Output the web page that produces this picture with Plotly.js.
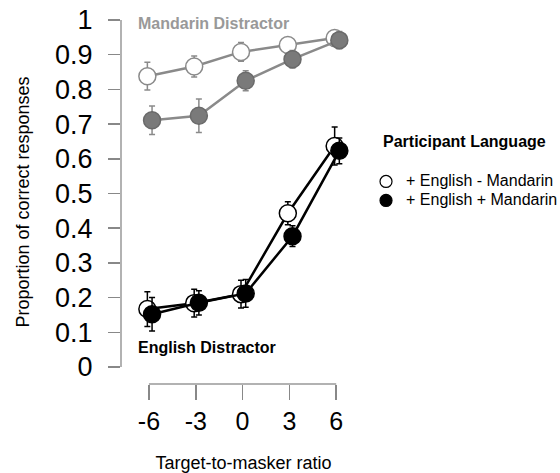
<!DOCTYPE html>
<html>
<head>
<meta charset="utf-8">
<script src="https://cdn.plot.ly/plotly-3.0.1.min.js"></script>
<style>html,body{margin:0;padding:0;background:#fff;}#chart{width:560px;height:473px;}</style>
</head>
<body>
<div id="chart"></div>
<script>
// Target-to-masker ratio (dB)
const tmr = [-6, -3, 0, 3, 6];
const tickLabelsX = ['-6', '-3', '0', '3', '6'];
const yTicks = [0, 0.1, 0.2, 0.3, 0.4, 0.5, 0.6, 0.7, 0.8, 0.9, 1];
const yTickLabels = ['0', '0.1', '0.2', '0.3', '0.4', '0.5', '0.6', '0.7', '0.8', '0.9', '1'];

// Mandarin distractor
const mandOpen = [0.838, 0.866, 0.908, 0.928, 0.948];
const mandOpenErr = [0.040, 0.030, 0.027, 0.020, 0.020];
const mandFilled = [0.711, 0.724, 0.825, 0.887, 0.942];
const mandFilledErr = [0.041, 0.048, 0.029, 0.025, 0.025];

// English distractor
const engOpen = [0.167, 0.184, 0.210, 0.443, 0.637];
const engOpenErr = [0.050, 0.040, 0.040, 0.033, 0.055];
const engFilled = [0.152, 0.185, 0.212, 0.377, 0.623];
const engFilledErr = [0.048, 0.035, 0.040, 0.030, 0.037];

const legendTitle = 'Participant Language';
const legendLabels = ['+ English - Mandarin', '+ English + Mandarin'];

const dodgeOpen = -0.1, dodgeFilled = 0.2;
const xOpen = tmr.map(v => v + dodgeOpen);
const xFilled = tmr.map(v => v + dodgeFilled);

const gray = '#8a8a8a';
const FONT = 'Liberation Sans, Arial, Helvetica, sans-serif';

function series(x, y, err, lineColor, fill, outline) {
  return {
    x: x, y: y, type: 'scatter', mode: 'lines+markers', showlegend: false,
    line: {color: lineColor, width: 2.5},
    marker: {size: 17, color: fill, line: {color: outline, width: 1.5}},
    error_y: {type: 'data', array: err, visible: true, color: lineColor, thickness: 1.5, width: 3},
    cliponaxis: false, hoverinfo: 'x+y'
  };
}

function legendName(s) {
  return '<span style="font-size:16px">' + s + '</span>';
}

const data = [
  series(xOpen, mandOpen, mandOpenErr, gray, '#ffffff', gray),
  series(xFilled, mandFilled, mandFilledErr, gray, '#7a7a7a', '#6a6a6a'),
  series(xOpen, engOpen, engOpenErr, '#000000', '#ffffff', '#000000'),
  series(xFilled, engFilled, engFilledErr, '#000000', '#000000', '#000000'),
  {x: [null], y: [null], type: 'scatter', mode: 'markers', name: legendName(legendLabels[0]),
   marker: {size: 12, color: '#ffffff', line: {color: '#000', width: 1.2}}},
  {x: [null], y: [null], type: 'scatter', mode: 'markers', name: legendName(legendLabels[1]),
   marker: {size: 12, color: '#000000', line: {color: '#000', width: 1.2}}}
];

const layout = {
  width: 560, height: 473,
  margin: {l: 121, r: 193, t: 20, b: 89},
  paper_bgcolor: '#fff', plot_bgcolor: '#fff',
  font: {family: FONT, color: '#000'},
  showlegend: true,
  xaxis: {
    range: [-7.79, 7.91], showgrid: false, zeroline: false, showline: false,
    tickmode: 'array', tickvals: tmr, ticktext: tickLabelsX,
    ticks: 'outside', ticklen: 15, tickwidth: 1.5, tickcolor: '#888',
    tickfont: {size: 25, color: '#000'}, ticklabelstandoff: 0,
    title: {text: 'Target-to-masker ratio', font: {size: 18, color: '#000'}, standoff: 22}
  },
  yaxis: {
    range: [-0.049, 1.0], showgrid: false, zeroline: false, showline: false,
    tickmode: 'array', tickvals: yTicks, ticktext: yTickLabels,
    ticks: 'outside', ticklen: 12, tickwidth: 1.5, tickcolor: '#888',
    tickfont: {size: 27, color: '#000'}, ticklabelstandoff: 10,
    title: {text: 'Proportion of correct responses', font: {size: 18, color: '#000'}, standoff: 20}
  },
  shapes: [
    {type: 'line', xref: 'paper', yref: 'y', x0: 0, x1: 0, y0: 0, y1: 1, line: {color: '#999', width: 1.5}},
    {type: 'line', xref: 'x', yref: 'paper', x0: tmr[0], x1: tmr[tmr.length - 1], y0: 0, y1: 0, line: {color: '#999', width: 1.5}}
  ],
  annotations: [
    {text: '<b>Mandarin Distractor</b>', xref: 'paper', yref: 'y', x: 0.062, y: 0.99, xanchor: 'left', yanchor: 'middle',
     showarrow: false, font: {size: 16, color: '#999'}},
    {text: '<b>English Distractor</b>', xref: 'paper', yref: 'y', x: 0.062, y: 0.055, xanchor: 'left', yanchor: 'middle',
     showarrow: false, font: {size: 16, color: '#000'}},
    {text: '<b>' + legendTitle + '</b>', xref: 'paper', yref: 'paper', x: 1.062, y: 0.665, xanchor: 'left', yanchor: 'middle',
     showarrow: false, font: {size: 16, color: '#000'}}
  ],
  legend: {
    xref: 'container', yref: 'container',
    x: 0.6536, xanchor: 'left', y: 0.647, yanchor: 'top',
    font: {size: 12, color: '#000'}, bgcolor: 'rgba(0,0,0,0)',
    itemwidth: 30, tracegroupgap: 0
  }
};

Plotly.newPlot('chart', data, layout, {displayModeBar: false, staticPlot: true});
</script>
</body>
</html>
